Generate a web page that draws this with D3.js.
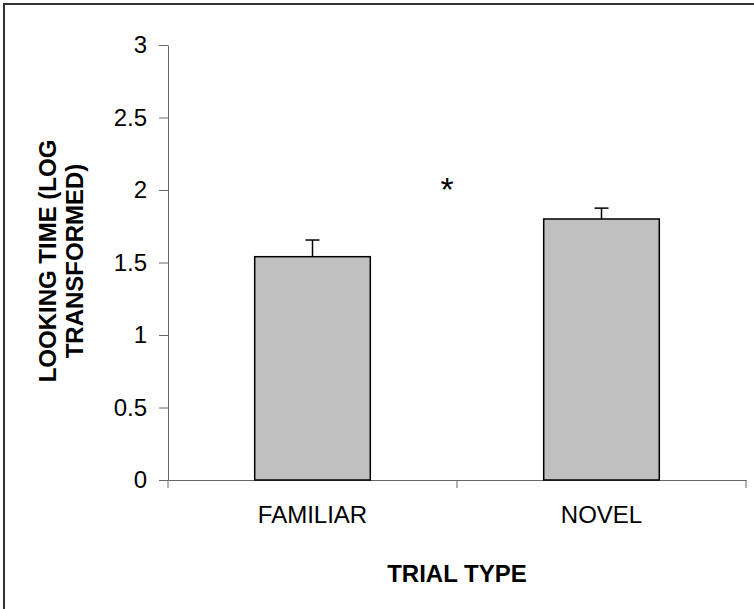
<!DOCTYPE html>
<html>
<head>
<meta charset="utf-8">
<script src="https://cdn.jsdelivr.net/npm/d3@7"></script>
<style>
  body { margin: 0; background: #fff; }
  svg text { font-family: "Liberation Sans", Arial, Helvetica, sans-serif; }
</style>
</head>
<body>
<div id="chart"></div>
<script>
var categories = ["FAMILIAR", "NOVEL"];
var means = [1.54, 1.80];
var errors = [0.115, 0.075];
var yTicks = [0, 0.5, 1, 1.5, 2, 2.5, 3];

var width = 754, height = 609;
var plotLeft = 168, plotRight = 746, plotTop = 45, plotBottom = 480;

var svg = d3.select('#chart')
  .append('svg')
  .attr('width', width)
  .attr('height', height);

// outer frame (only top and left edges show)
svg.append('rect')
  .attr('x', 4).attr('y', 4)
  .attr('width', 900).attr('height', 900)
  .attr('fill', 'none')
  .attr('stroke', '#333')
  .attr('stroke-width', 2);

var x = d3.scaleBand()
  .domain(categories)
  .range([plotLeft, plotRight])
  .padding(0);

var y = d3.scaleLinear()
  .domain([0, 3])
  .range([plotBottom, plotTop]);

var barW = x.bandwidth() * 0.4;

// y axis
var yAxis = svg.append('g')
  .attr('transform', 'translate(' + plotLeft + ',0)')
  .call(d3.axisLeft(y).tickValues(yTicks).tickSize(9).tickPadding(12)
    .tickSizeOuter(0)
    .tickFormat(function(d){ return String(d); }));
yAxis.selectAll('path, line').attr('stroke', '#666');
yAxis.selectAll('text').attr('font-size', 24).attr('fill', '#000')
  .attr('font-family', '"Liberation Sans", Arial, sans-serif');

// x axis
var xAxis = svg.append('g')
  .attr('transform', 'translate(0,' + plotBottom + ')')
  .call(d3.axisBottom(x).tickValues([]).tickSizeOuter(0));
xAxis.selectAll('path').attr('stroke', '#666');
xAxis.selectAll('line.sep')
  .data([plotLeft, x(categories[1]), plotRight])
  .enter()
  .append('line')
  .attr('class', 'sep')
  .attr('x1', function(d){ return d; })
  .attr('x2', function(d){ return d; })
  .attr('y1', 0).attr('y2', 8)
  .attr('stroke', '#666');

// bars
svg.selectAll('rect.bar')
  .data(categories)
  .enter()
  .append('rect')
  .attr('class', 'bar')
  .attr('x', function(d){ return x(d) + x.bandwidth()/2 - barW/2; })
  .attr('y', function(d,i){ return y(means[i]); })
  .attr('width', barW)
  .attr('height', function(d,i){ return y(0) - y(means[i]); })
  .attr('fill', '#c0c0c0')
  .attr('stroke', '#000')
  .attr('stroke-width', 1.5);

// error bars (upper only)
var eb = svg.selectAll('g.err')
  .data(categories)
  .enter()
  .append('g')
  .attr('class', 'err');

eb.append('line')
  .attr('x1', function(d){ return x(d) + x.bandwidth()/2; })
  .attr('x2', function(d){ return x(d) + x.bandwidth()/2; })
  .attr('y1', function(d,i){ return y(means[i]); })
  .attr('y2', function(d,i){ return y(means[i] + errors[i]); })
  .attr('stroke', '#000').attr('stroke-width', 1.5);

eb.append('line')
  .attr('x1', function(d){ return x(d) + x.bandwidth()/2 - 7; })
  .attr('x2', function(d){ return x(d) + x.bandwidth()/2 + 7; })
  .attr('y1', function(d,i){ return y(means[i] + errors[i]); })
  .attr('y2', function(d,i){ return y(means[i] + errors[i]); })
  .attr('stroke', '#000').attr('stroke-width', 1.5);

svg.selectAll('text.xlab')
  .data(categories)
  .enter()
  .append('text')
  .attr('class', 'xlab')
  .attr('x', function(d){ return x(d) + x.bandwidth()/2; })
  .attr('y', 523)
  .attr('text-anchor', 'middle')
  .attr('font-size', 24)
  .text(function(d){ return d; });

// axis titles
svg.append('text')
  .attr('x', (plotLeft + plotRight)/2)
  .attr('y', 582)
  .attr('text-anchor', 'middle')
  .attr('font-size', 24)
  .attr('font-weight', 'bold')
  .text('TRIAL TYPE');

var ylab = svg.append('text')
  .attr('transform', 'translate(0,261) rotate(-90)')
  .attr('text-anchor', 'middle')
  .attr('font-size', 24)
  .attr('font-weight', 'bold');
ylab.append('tspan').attr('x', 0).attr('y', 56).text('LOOKING TIME (LOG');
ylab.append('tspan').attr('x', 0).attr('y', 83).text('TRANSFORMED)');

// significance marker
svg.append('text')
  .attr('x', 447)
  .attr('y', 201)
  .attr('text-anchor', 'middle')
  .attr('font-size', 34)
  .text('*');
</script>
</body>
</html>
